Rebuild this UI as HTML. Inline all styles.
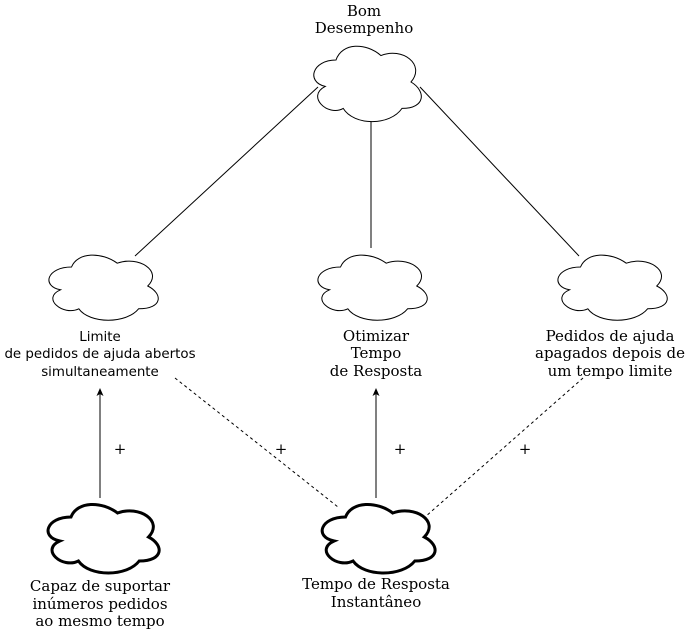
<!DOCTYPE html>
<html><head><meta charset="utf-8"><style>
html,body{margin:0;padding:0;background:#fff;}
svg{display:block}
text{font-family:"DejaVu Serif","Liberation Serif",serif;font-size:15px;fill:#000;text-anchor:middle}
.s{font-family:"DejaVu Sans","Liberation Sans",sans-serif;font-size:13.4px}
</style></head><body>
<svg width="686" height="630" viewBox="0 0 686 630" xmlns="http://www.w3.org/2000/svg">
<defs>
<marker id="a" markerWidth="8" markerHeight="8" refX="4" refY="4" orient="auto" markerUnits="userSpaceOnUse"><path d="M0 0.5 L8 4 L0 7.5 L2 4 Z" fill="#000"/></marker>
</defs>
<g stroke="#000" stroke-width="1" fill="none">
<line x1="318" y1="87" x2="135" y2="256"/>
<line x1="371" y1="105" x2="371" y2="248"/>
<line x1="420" y1="87" x2="579" y2="256"/>
<line x1="175" y1="378" x2="338" y2="507" stroke-dasharray="3,3"/>
<line x1="583" y1="378" x2="425" y2="517" stroke-dasharray="3,3"/>
<line x1="100" y1="498" x2="100" y2="392" marker-end="url(#a)"/>
<line x1="376" y1="498" x2="376" y2="392" marker-end="url(#a)"/>
</g>
<g fill="#fff" stroke="#000" stroke-width="1">
<path vector-effect="non-scaling-stroke" transform="translate(306,38) scale(120,88)" d="M0.25 0.25 C0.05 0.25 0 0.5 0.16 0.55 C0 0.66 0.18 0.9 0.31 0.8 C0.4 1 0.7 1 0.8 0.8 C1 0.8 1 0.6 0.875 0.5 C1 0.3 0.8 0.1 0.625 0.2 C0.5 0.05 0.3 0.05 0.25 0.25 Z"/>
<path vector-effect="non-scaling-stroke" transform="translate(41,248) scale(122,76)" d="M0.25 0.25 C0.05 0.25 0 0.5 0.16 0.55 C0 0.66 0.18 0.9 0.31 0.8 C0.4 1 0.7 1 0.8 0.8 C1 0.8 1 0.6 0.875 0.5 C1 0.3 0.8 0.1 0.625 0.2 C0.5 0.05 0.3 0.05 0.25 0.25 Z"/>
<path vector-effect="non-scaling-stroke" transform="translate(310,248) scale(122,76)" d="M0.25 0.25 C0.05 0.25 0 0.5 0.16 0.55 C0 0.66 0.18 0.9 0.31 0.8 C0.4 1 0.7 1 0.8 0.8 C1 0.8 1 0.6 0.875 0.5 C1 0.3 0.8 0.1 0.625 0.2 C0.5 0.05 0.3 0.05 0.25 0.25 Z"/>
<path vector-effect="non-scaling-stroke" transform="translate(550,248) scale(122,76)" d="M0.25 0.25 C0.05 0.25 0 0.5 0.16 0.55 C0 0.66 0.18 0.9 0.31 0.8 C0.4 1 0.7 1 0.8 0.8 C1 0.8 1 0.6 0.875 0.5 C1 0.3 0.8 0.1 0.625 0.2 C0.5 0.05 0.3 0.05 0.25 0.25 Z"/>
</g>
<g fill="#fff" stroke="#000">
<path vector-effect="non-scaling-stroke" style="stroke-width:3" transform="translate(40,497) scale(124,80)" d="M0.25 0.25 C0.05 0.25 0 0.5 0.16 0.55 C0 0.66 0.18 0.9 0.31 0.8 C0.4 1 0.7 1 0.8 0.8 C1 0.8 1 0.6 0.875 0.5 C1 0.3 0.8 0.1 0.625 0.2 C0.5 0.05 0.3 0.05 0.25 0.25 Z"/>
<path vector-effect="non-scaling-stroke" style="stroke-width:3" transform="translate(314,497) scale(126,80)" d="M0.25 0.25 C0.05 0.25 0 0.5 0.16 0.55 C0 0.66 0.18 0.9 0.31 0.8 C0.4 1 0.7 1 0.8 0.8 C1 0.8 1 0.6 0.875 0.5 C1 0.3 0.8 0.1 0.625 0.2 C0.5 0.05 0.3 0.05 0.25 0.25 Z"/>
</g>
<text x="364" y="16">Bom</text>
<text x="364" y="33">Desempenho</text>
<text class="s" x="100" y="341">Limite</text>
<text class="s" x="100" y="358">de pedidos de ajuda abertos</text>
<text class="s" x="100" y="376">simultaneamente</text>
<text x="376" y="341">Otimizar</text>
<text x="376" y="358">Tempo</text>
<text x="376" y="376">de Resposta</text>
<text x="610" y="341">Pedidos de ajuda</text>
<text x="610" y="358">apagados depois de</text>
<text x="610" y="376">um tempo limite</text>
<text x="100" y="591">Capaz de suportar</text>
<text x="100" y="609">inúmeros pedidos</text>
<text x="100" y="626">ao mesmo tempo</text>
<text x="376" y="589">Tempo de Resposta</text>
<text x="376" y="607">Instantâneo</text>
<text x="120" y="454">+</text>
<text x="281" y="454">+</text>
<text x="400" y="454">+</text>
<text x="525" y="454">+</text>
</svg>
</body></html>
